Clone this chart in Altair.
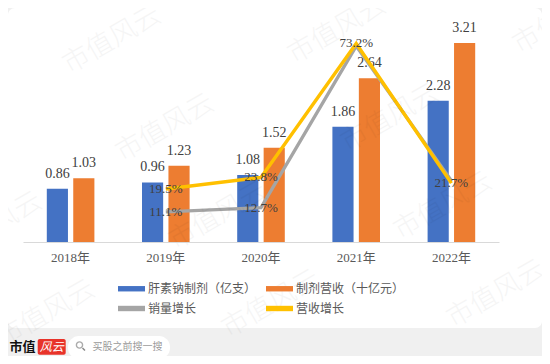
import altair as alt
import pandas as pd

# ---------------- data ----------------
years = ["2018年", "2019年", "2020年", "2021年", "2022年"]
sales = [0.86, 0.96, 1.08, 1.86, 2.28]          # 肝素钠制剂（亿支）
revenue = [1.03, 1.23, 1.52, 2.64, 3.21]        # 制剂营收（十亿元）
growth_years = ["2019年", "2020年", "2021年", "2022年"]
sales_growth = [0.111, 0.127, 0.722, 0.226]     # 销量增长
revenue_growth = [0.195, 0.238, 0.732, 0.217]   # 营收增长
sales_growth_labels = ["11.1%", "12.7%", "", ""]
revenue_growth_labels = ["19.5%", "23.8%", "73.2%", "21.7%"]

S1, S2, S3, S4 = "肝素钠制剂（亿支）", "制剂营收（十亿元）", "销量增长", "营收增长"
# legend grid fills column by column: col 1 = S1, S3 ; col 2 = S2, S4
legend_order = [S1, S3, S2, S4]
legend_colors = ["#4472C4", "#A5A5A5", "#ED7D31", "#FFC000"]
GRAY, YELLOW = "#A5A5A5", "#FFC000"

bar_df = pd.DataFrame({
    "year": years * 2,
    "series": [S1] * len(years) + [S2] * len(years),
    "value": sales + revenue,
})
line_df = pd.DataFrame({
    "year": growth_years * 2,
    "series": [S3] * len(growth_years) + [S4] * len(growth_years),
    "value": sales_growth + revenue_growth,
    "label": sales_growth_labels + revenue_growth_labels,
})
label_df = line_df[line_df["label"] != ""]

# ---------------- styling ----------------
NUM_FONT = "Liberation Serif, Noto Sans CJK SC"
CJK_FONT = "Noto Sans CJK SC"
W, H = 476, 217
PAD = {"left": 15, "top": 17, "right": 43, "bottom": 114}

x_enc = alt.X(
    "year:N",
    sort=years,
    scale=alt.Scale(domain=years, paddingInner=0.5, paddingOuter=0.25),
    axis=alt.Axis(title=None, labelAngle=0, ticks=False, domainColor="#d9d9d9",
                  domainWidth=1, labelFont=NUM_FONT, labelFontSize=13,
                  labelColor="#595959", labelPadding=9, grid=False, zindex=1),
)
xoff = alt.XOffset("series:N", sort=[S1, S2],
                   scale=alt.Scale(domain=[S1, S2], paddingInner=0.2, paddingOuter=0))
y_bar = alt.Y("value:Q", scale=alt.Scale(domain=[0, 3.5], nice=False, zero=True), axis=None)
y_line = alt.Y("value:Q", scale=alt.Scale(domain=[0, 0.8], nice=False, zero=True), axis=None)

legend = alt.Legend(
    title=None, orient="none", legendX=95, legendY=250, columns=2,
    symbolType="M-1,-0.2H1V0.2H-1Z", symbolSize=729, symbolStrokeWidth=0,
    symbolOpacity=1,
    labelFont=CJK_FONT, labelFontSize=12, labelColor="#595959",
    columnPadding=9, rowPadding=-4, labelOffset=3, labelLimit=0,
)
color_enc = alt.Color("series:N", scale=alt.Scale(domain=legend_order, range=legend_colors),
                      legend=legend)

# ---------------- data layers ----------------
bars = alt.Chart(bar_df).mark_bar().encode(x=x_enc, xOffset=xoff, y=y_bar, color=color_enc)
bar_text = alt.Chart(bar_df).mark_text(
    dy=-15, font=NUM_FONT, fontSize=14, color="#404040", baseline="middle"
).encode(x=x_enc, xOffset=xoff, y=y_bar, text=alt.Text("value:Q", format=".2f"))

gray_line = alt.Chart(line_df).transform_filter(alt.datum.series == S3).mark_line(
    strokeWidth=3.3, color=GRAY).encode(x=x_enc, y=y_line)
yellow_line = alt.Chart(line_df).transform_filter(alt.datum.series == S4).mark_line(
    strokeWidth=3.5, color=YELLOW).encode(x=x_enc, y=y_line)
line_text = alt.Chart(label_df).mark_text(
    font=NUM_FONT, fontSize=13, color="#404040", baseline="middle", align="center"
).encode(x=x_enc, y=y_line, text="label:N")

# ---------------- decoration ----------------
one = pd.DataFrame({"a": [0]})
card = alt.Chart(one).mark_rect(color="white", cornerRadius=7).encode(
    x=alt.value(-15), x2=alt.value(519), y=alt.value(-17), y2=alt.value(303))
logo_text = alt.Chart(one).mark_text(
    text="市值", font=CJK_FONT, fontSize=13, fontWeight="bold", color="#111111",
    baseline="middle", align="center").encode(x=alt.value(-0.5), y=alt.value(321.5))
logo_box = alt.Chart(one).mark_rect(color="#E8332A", cornerRadius=2).encode(
    x=alt.value(14.7), x2=alt.value(42.7), y=alt.value(314), y2=alt.value(329.7))
logo_box_text = alt.Chart(one).mark_text(
    text="风云", font=CJK_FONT, fontSize=12, fontStyle="italic", color="white",
    baseline="middle", align="center").encode(x=alt.value(28.7), y=alt.value(321.8))
search_pill = alt.Chart(one).mark_rect(color="white", cornerRadius=11).encode(
    x=alt.value(45), x2=alt.value(147), y=alt.value(311), y2=alt.value(334))
search_icon = alt.Chart(one).mark_point(
    shape="circle", size=38, strokeWidth=1.4, color="#888888", filled=False).encode(
    x=alt.value(56.5), y=alt.value(320))
search_handle = alt.Chart(one).mark_rule(strokeWidth=1.5, color="#888888").encode(
    x=alt.value(59.5), x2=alt.value(62), y=alt.value(323), y2=alt.value(325.5))
search_text = alt.Chart(one).mark_text(
    text="买股之前搜一搜", font=CJK_FONT, fontSize=10, color="#9a9a9a",
    baseline="middle", align="left").encode(x=alt.value(69.5), y=alt.value(321.5))

wm_x = [-30, 23, 89, 142, 195, 248, 314, 367, 420, 473, 539]
wm_y = [201, 289, 15, 103, 191, 279, 5, 93, 181, 269, -5]
watermarks = [
    alt.Chart(one).mark_text(
        text="市值风云", font=CJK_FONT, fontSize=27, fontWeight=300, angle=330,
        color="#000000", opacity=0.035, baseline="middle", align="center").encode(
        x=alt.value(px), y=alt.value(py))
    for px, py in zip(wm_x, wm_y)
]

chart = alt.layer(
    card, logo_text, logo_box, logo_box_text, search_pill, search_icon, search_handle,
    search_text,
    bars, bar_text, gray_line, yellow_line, line_text,
    *watermarks,
).resolve_scale(y="independent").properties(
    width=W, height=H, padding=PAD, autosize=alt.AutoSizeParams(type="none"),
    background="#F0F0F0",
).configure_view(stroke=None)

chart.save("out.html", embed_options={"renderer": "svg", "actions": False})
